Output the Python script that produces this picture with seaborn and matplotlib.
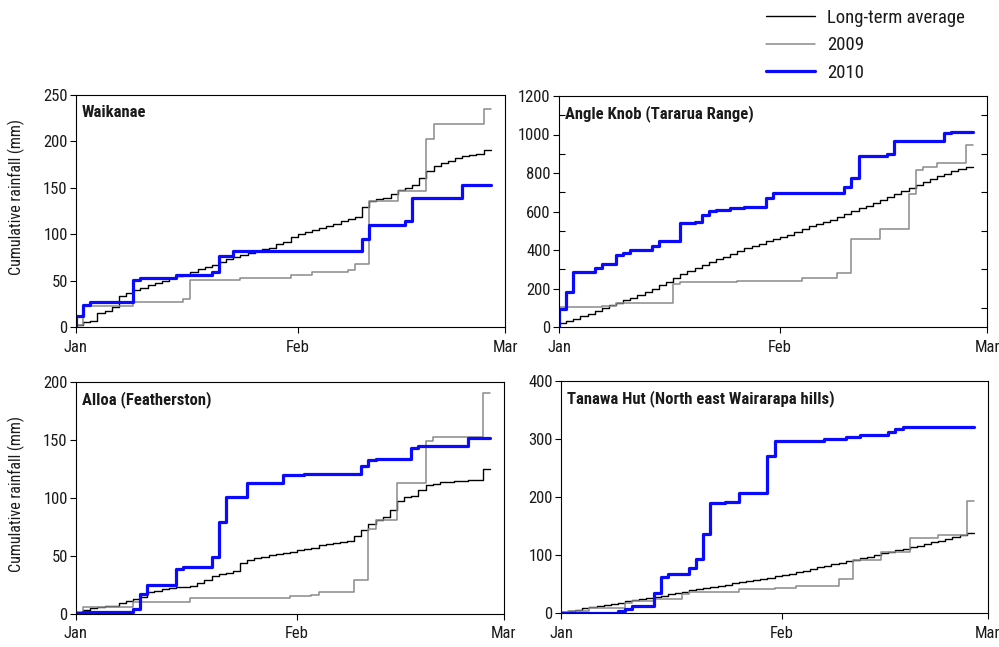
import numpy as np
import pandas as pd
import matplotlib
matplotlib.use('Agg')
import matplotlib.pyplot as plt
import seaborn as sns
from matplotlib import font_manager as fm
from matplotlib.ticker import FixedLocator

# ---------------- data (cumulative rainfall, mm, one value per day) ----------------
stations = ["Waikanae", "Angle Knob (Tararua Range)", "Alloa (Featherston)",
            "Tanawa Hut (North east Wairarapa hills)"]
series_names = ["Long-term average", "2009", "2010"]
month_ticks = [0, 31, 60]
month_labels = ["Jan", "Feb", "Mar"]

waikanae_avg = [2, 5, 7, 15, 17, 22, 33, 37, 40, 42,
                45, 47, 50, 53, 55, 56.5, 59, 62, 65, 67,
                70, 73, 75.5, 78, 80, 82, 84, 85, 89.5, 92,
                97, 100, 102, 104, 107, 109, 111.5, 114, 116, 119,
                129.5, 136, 138, 139, 143, 147.5, 150, 153, 161, 168,
                174, 177, 179, 182, 184, 185, 186, 190.5]
waikanae_2009 = ([2] + [23] * 7 + [27] * 7 + [30] + [51] * 7 + [53] * 7 + [56] * 3 +
                 [59] * 5 + [61] + [68] * 2 + [136] * 4 + [147] * 4 + [203] +
                 [219] * 7 + [235])
waikanae_2010 = ([12, 24] + [27] * 6 + [51] + [53] * 5 + [56] * 5 + [59] + [77] * 2 +
                 [82] * 18 + [95] + [110] * 5 + [114] + [139] * 7 + [153] * 4)

angle_avg = [22, 30, 40, 55, 70, 85, 100, 114, 127, 140,
             153, 167, 180, 198, 216, 236, 256, 273, 290, 306,
             322, 338, 352, 366, 380, 394, 408, 420, 432, 445,
             458, 468, 480, 494, 510, 524, 536, 548, 558, 570,
             588, 605, 617, 630, 645, 660, 675, 690, 705, 720,
             738, 755, 768, 782, 795, 808, 820, 832]
angle_2009 = ([105] * 6 + [110] * 2 + [125] * 8 + [222] + [234] * 8 + [240] * 9 +
              [253] * 5 + [282] * 2 + [455] * 4 + [507] * 4 + [689] + [814] +
              [833] * 2 + [854] * 4 + [944])
angle_2010 = ([92, 184] + [287] * 3 + [305] + [325] * 2 + [372, 386] + [398] * 3 +
              [421] + [447] * 3 + [538] * 2 + [545, 580, 602] + [608] * 2 + [616] * 2 +
              [623] * 3 + [672] + [694] * 7 + [698] * 3 + [727, 776] + [888] * 4 +
              [897] + [966] * 7 + [1010] + [1015] * 3)

alloa_avg = [1.7, 3.8, 5, 6, 6.6, 7.2, 9.5, 11, 13, 15,
             19, 20, 21.6, 22.5, 23, 23.4, 24, 26.8, 29.7, 32.6,
             34.6, 35, 37, 44, 46.5, 48.5, 49.3, 50.5, 51.4, 52.2,
             53.4, 54.8, 56.3, 57, 59.4, 60, 61, 62, 63, 67,
             72.4, 77.3, 80.8, 84, 89.4, 97.5, 101, 102, 106.7, 111,
             112.5, 113.4, 114, 114.5, 114.8, 115.4, 115.4, 125]
alloa_2009 = ([2] + [5.8] * 7 + [10] * 8 + [14] * 14 + [15.3] * 3 + [16.7] + [19] * 5 +
              [29.7] * 2 + [73] + [81] * 3 + [113] * 4 + [149] + [153] * 7 + [190.7])
alloa_2010 = ([0.6, 1.4] + [2] * 6 + [4.3, 17.6] + [25.4] * 4 + [38.4] + [40.4] * 4 +
              [49, 79.6] + [101] * 3 + [113] * 5 + [120] * 3 + [120.6] * 7 +
              [121, 128, 132.7] + [133.6] * 5 + [143] + [145] * 7 + [152] * 3)

tanawa_avg = [2, 4, 6, 8, 10, 12, 14, 16, 18, 20,
              22, 24, 26, 28, 30, 32, 35, 37, 39, 41,
              43, 45, 47, 49, 51, 53, 55, 57, 59, 61,
              63, 66, 68, 71, 73, 76, 79, 81, 84, 87,
              89, 92, 95, 97, 100, 103, 105, 108, 111, 113,
              116, 119, 122, 125, 128, 131, 134, 138]
tanawa_2009 = ([2] + [4] * 3 + [8] * 5 + [17] + [21] * 3 + [25] * 4 + [33] + [37] * 7 +
               [41] * 5 + [43] * 3 + [46] * 6 + [58] * 2 + [92] * 4 + [106] * 4 +
               [130] * 4 + [134] * 4 + [193])
tanawa_2010 = ([0.5] * 8 + [3, 7.5] + [12] * 3 + [35, 62] + [67] * 3 + [77, 93, 137] +
               [190] * 2 + [192] * 2 + [206.6] * 4 + [271] + [296] * 7 + [300] * 3 +
               [303.5] * 2 + [307] * 4 + [311.6, 318] + [321] * 10)

panel_data = [
    (waikanae_avg, waikanae_2009, waikanae_2010),
    (angle_avg, angle_2009, angle_2010),
    (alloa_avg, alloa_2009, alloa_2010),
    (tanawa_avg, tanawa_2009, tanawa_2010),
]
y_limits = [250, 1200, 200, 400]
y_steps = [50, 200, 50, 100]

# ---------------- style ----------------
sns.set_style("white")
names = {f.name for f in fm.fontManager.ttflist}
fam = "Roboto Condensed" if "Roboto Condensed" in names else (
    "PT Sans Narrow" if "PT Sans Narrow" in names else "Liberation Sans")
plt.rcParams["font.family"] = [fam, "DejaVu Sans"]
TXT = "#1a1a1a"
plt.rcParams["text.color"] = TXT
plt.rcParams["axes.labelcolor"] = TXT
plt.rcParams["xtick.color"] = "black"
plt.rcParams["ytick.color"] = "black"
plt.rcParams["xtick.labelcolor"] = TXT
plt.rcParams["ytick.labelcolor"] = TXT

colors = ["black", "#8a8a8a", "#0a0aff"]
widths = [1.0, 1.1, 2.3]

fig = plt.figure(figsize=(9.99, 6.47), dpi=100)
W = 999.0
H = 647.0
rects = [(76, 95, 505, 327), (559, 96, 987, 327), (76, 382, 504, 614), (561, 381, 988, 613)]

axes = []
for i, (x0, y0, x1, y1) in enumerate(rects):
    ax = fig.add_axes([x0 / W, 1 - y1 / H, (x1 - x0) / W, (y1 - y0) / H])
    axes.append(ax)
    for j, vals in enumerate(panel_data[i]):
        v = [0] + list(vals)
        df = pd.DataFrame({"day": np.arange(len(v)), "rain": v})
        sns.lineplot(data=df, x="day", y="rain", ax=ax, color=colors[j],
                     linewidth=widths[j], drawstyle="steps-pre", estimator=None,
                     label=series_names[j], legend=False)
    ax.set_xlim(0, 60)
    ax.set_ylim(0, y_limits[i])
    ax.set_xticks(month_ticks)
    ax.set_xticklabels(month_labels)
    ax.set_yticks(np.arange(0, y_limits[i] + 1, y_steps[i]))
    ax.set_xlabel("")
    ax.set_ylabel("")
    for s in ax.spines.values():
        s.set_visible(True)
        s.set_color("black")
        s.set_linewidth(0.8)
    ax.tick_params(axis="both", which="major", direction="out", length=4, width=0.8,
                   labelsize=12, bottom=True, left=True, pad=2)
    ax.tick_params(axis="x", pad=5)
    ax.text(0.014, 0.925, stations[i], transform=ax.transAxes, ha="left", va="center",
            fontsize=12, fontweight="bold", color=TXT)
    if i == 1:
        ax.yaxis.set_minor_locator(FixedLocator(np.arange(100, 1200, 200)))
        ax.tick_params(axis="y", which="minor", direction="in", left=True, right=True,
                       length=4, width=0.8)
    if i in (0, 2):
        ax.set_ylabel("Cumulative rainfall (mm)", fontsize=11.5)
        ax.yaxis.set_label_coords(-0.119, 0.56 if i == 0 else 0.517)

handles = axes[0].get_lines()[:3]
fig.legend(handles, series_names, loc="upper left", bbox_to_anchor=(766 / W, 1 - 9 / H),
           frameon=False, fontsize=13.5, handlelength=2.6, handletextpad=0.65,
           labelspacing=0.5, borderpad=0, borderaxespad=0)

fig.savefig("out.png", dpi=100)
